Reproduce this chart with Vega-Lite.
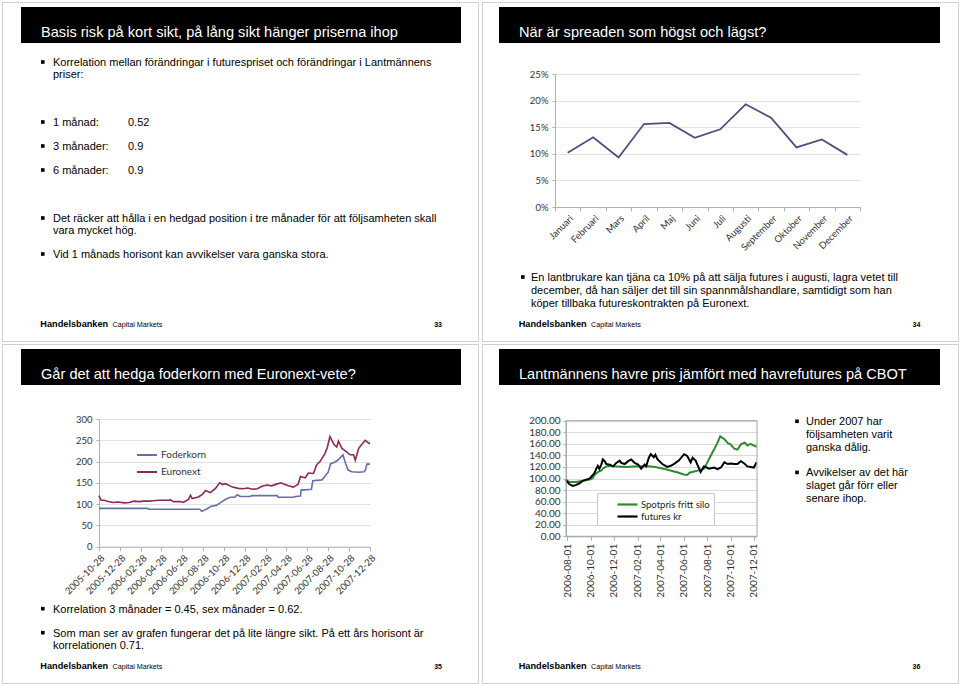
{
  "$schema": "https://vega.github.io/schema/vega-lite/v6.json",
  "background": "white",
  "padding": {"left": 1, "top": 1, "right": 3, "bottom": 2},
  "columns": 2,
  "spacing": {"row": 3, "column": 4},
  "bounds": "flush",
  "resolve": {"scale": {"color": "independent"}, "legend": {"color": "independent"}},
  "config": {
    "view": {"stroke": "#d0d0d0", "strokeWidth": 1},
    "font": "Liberation Sans",
    "axis": {"labelFont": "Lato", "labelFontSize": 9.5, "labelColor": "#333333", "domainColor": "#b0b0b0", "tickColor": "#b0b0b0", "gridColor": "#e2e2e2", "labelOverlap": false, "labelFlush": false, "labelBound": false, "title": null}
  },
  "datasets": {
    "s1text": [
      {"line": 0, "text": "Korrelation mellan förändringar i futurespriset och förändringar i Lantmännens", "bullet": true},
      {"line": 1, "text": "priser:", "bullet": false},
      {"line": 5, "text": "1 månad:", "value": "0.52", "bullet": true},
      {"line": 7, "text": "3 månader:", "value": "0.9", "bullet": true},
      {"line": 9, "text": "6 månader:", "value": "0.9", "bullet": true},
      {"line": 13, "text": "Det räcker att hålla i en hedgad position i tre månader för att följsamheten skall", "bullet": true},
      {"line": 14, "text": "vara mycket hög.", "bullet": false},
      {"line": 16, "text": "Vid 1 månads horisont kan avvikelser vara ganska stora.", "bullet": true}
    ],
    "s2text": [
      {"line": 0, "text": "En lantbrukare kan tjäna ca 10% på att sälja futures i augusti, lagra vetet till", "bullet": true},
      {"line": 1, "text": "december, då han säljer det till sin spannmålshandlare, samtidigt som han", "bullet": false},
      {"line": 2, "text": "köper tillbaka futureskontrakten på Euronext.", "bullet": false}
    ],
    "s3text": [
      {"line": 0, "text": "Korrelation 3 månader = 0.45, sex månader = 0.62.", "bullet": true},
      {"line": 2, "text": "Som man ser av grafen fungerar det på lite längre sikt. På ett års horisont är", "bullet": true},
      {"line": 3, "text": "korrelationen 0.71.", "bullet": false}
    ],
    "s4text": [
      {"line": 0, "text": "Under 2007 har", "bullet": true},
      {"line": 1, "text": "följsamheten varit", "bullet": false},
      {"line": 2, "text": "ganska dålig.", "bullet": false},
      {"line": 4, "text": "Avvikelser av det här", "bullet": true},
      {"line": 5, "text": "slaget går förr eller", "bullet": false},
      {"line": 6, "text": "senare ihop.", "bullet": false}
    ],
    "spread": [
      {"month": "Januari", "spread": 0.102},
      {"month": "Februari", "spread": 0.131},
      {"month": "Mars", "spread": 0.093},
      {"month": "April", "spread": 0.156},
      {"month": "Maj", "spread": 0.158},
      {"month": "Juni", "spread": 0.130},
      {"month": "Juli", "spread": 0.146},
      {"month": "Augusti", "spread": 0.193},
      {"month": "September", "spread": 0.168},
      {"month": "Oktober", "spread": 0.112},
      {"month": "November", "spread": 0.127},
      {"month": "December", "spread": 0.098}
    ],
    "feed": [
      {"date": "2005-10-28", "series": "Foderkorn", "price": 90},
      {"date": "2005-11-25", "series": "Foderkorn", "price": 90},
      {"date": "2005-12-23", "series": "Foderkorn", "price": 90},
      {"date": "2006-01-27", "series": "Foderkorn", "price": 90},
      {"date": "2006-02-24", "series": "Foderkorn", "price": 90},
      {"date": "2006-03-17", "series": "Foderkorn", "price": 90},
      {"date": "2006-03-24", "series": "Foderkorn", "price": 88},
      {"date": "2006-04-28", "series": "Foderkorn", "price": 88},
      {"date": "2006-05-26", "series": "Foderkorn", "price": 88},
      {"date": "2006-06-23", "series": "Foderkorn", "price": 88},
      {"date": "2006-07-21", "series": "Foderkorn", "price": 88},
      {"date": "2006-08-18", "series": "Foderkorn", "price": 88},
      {"date": "2006-08-24", "series": "Foderkorn", "price": 83},
      {"date": "2006-09-06", "series": "Foderkorn", "price": 88},
      {"date": "2006-09-20", "series": "Foderkorn", "price": 95},
      {"date": "2006-10-05", "series": "Foderkorn", "price": 97},
      {"date": "2006-10-19", "series": "Foderkorn", "price": 104},
      {"date": "2006-11-03", "series": "Foderkorn", "price": 112},
      {"date": "2006-11-16", "series": "Foderkorn", "price": 116},
      {"date": "2006-11-27", "series": "Foderkorn", "price": 116},
      {"date": "2006-12-06", "series": "Foderkorn", "price": 122},
      {"date": "2006-12-14", "series": "Foderkorn", "price": 118},
      {"date": "2007-01-10", "series": "Foderkorn", "price": 118},
      {"date": "2007-01-19", "series": "Foderkorn", "price": 120},
      {"date": "2007-04-01", "series": "Foderkorn", "price": 120},
      {"date": "2007-04-04", "series": "Foderkorn", "price": 116},
      {"date": "2007-05-19", "series": "Foderkorn", "price": 116},
      {"date": "2007-05-25", "series": "Foderkorn", "price": 118},
      {"date": "2007-06-08", "series": "Foderkorn", "price": 119},
      {"date": "2007-06-10", "series": "Foderkorn", "price": 133},
      {"date": "2007-06-28", "series": "Foderkorn", "price": 134},
      {"date": "2007-07-10", "series": "Foderkorn", "price": 135},
      {"date": "2007-07-14", "series": "Foderkorn", "price": 155},
      {"date": "2007-08-10", "series": "Foderkorn", "price": 157},
      {"date": "2007-08-18", "series": "Foderkorn", "price": 165},
      {"date": "2007-08-28", "series": "Foderkorn", "price": 175},
      {"date": "2007-09-04", "series": "Foderkorn", "price": 195},
      {"date": "2007-09-14", "series": "Foderkorn", "price": 198},
      {"date": "2007-09-25", "series": "Foderkorn", "price": 203},
      {"date": "2007-10-10", "series": "Foderkorn", "price": 216},
      {"date": "2007-10-18", "series": "Foderkorn", "price": 195},
      {"date": "2007-10-25", "series": "Foderkorn", "price": 180},
      {"date": "2007-11-05", "series": "Foderkorn", "price": 176},
      {"date": "2007-11-25", "series": "Foderkorn", "price": 175},
      {"date": "2007-12-10", "series": "Foderkorn", "price": 176},
      {"date": "2007-12-14", "series": "Foderkorn", "price": 179},
      {"date": "2007-12-19", "series": "Foderkorn", "price": 194},
      {"date": "2007-12-28", "series": "Foderkorn", "price": 194},
      {"date": "2005-10-28", "series": "Euronext", "price": 120},
      {"date": "2005-11-03", "series": "Euronext", "price": 109},
      {"date": "2005-11-12", "series": "Euronext", "price": 109},
      {"date": "2005-11-24", "series": "Euronext", "price": 106},
      {"date": "2005-12-08", "series": "Euronext", "price": 104},
      {"date": "2005-12-22", "series": "Euronext", "price": 105},
      {"date": "2006-01-10", "series": "Euronext", "price": 103},
      {"date": "2006-01-24", "series": "Euronext", "price": 104},
      {"date": "2006-02-07", "series": "Euronext", "price": 107},
      {"date": "2006-02-21", "series": "Euronext", "price": 106},
      {"date": "2006-03-07", "series": "Euronext", "price": 107},
      {"date": "2006-03-22", "series": "Euronext", "price": 107},
      {"date": "2006-04-05", "series": "Euronext", "price": 108},
      {"date": "2006-04-19", "series": "Euronext", "price": 109},
      {"date": "2006-05-03", "series": "Euronext", "price": 109},
      {"date": "2006-05-19", "series": "Euronext", "price": 109},
      {"date": "2006-05-25", "series": "Euronext", "price": 110},
      {"date": "2006-06-02", "series": "Euronext", "price": 106},
      {"date": "2006-06-22", "series": "Euronext", "price": 106},
      {"date": "2006-07-01", "series": "Euronext", "price": 104},
      {"date": "2006-07-16", "series": "Euronext", "price": 111},
      {"date": "2006-07-22", "series": "Euronext", "price": 121},
      {"date": "2006-07-27", "series": "Euronext", "price": 113},
      {"date": "2006-08-14", "series": "Euronext", "price": 117},
      {"date": "2006-08-26", "series": "Euronext", "price": 123},
      {"date": "2006-09-04", "series": "Euronext", "price": 132},
      {"date": "2006-09-18", "series": "Euronext", "price": 127},
      {"date": "2006-10-03", "series": "Euronext", "price": 137},
      {"date": "2006-10-15", "series": "Euronext", "price": 150},
      {"date": "2006-10-24", "series": "Euronext", "price": 146},
      {"date": "2006-11-01", "series": "Euronext", "price": 148},
      {"date": "2006-11-22", "series": "Euronext", "price": 140},
      {"date": "2006-12-08", "series": "Euronext", "price": 137},
      {"date": "2006-12-22", "series": "Euronext", "price": 136},
      {"date": "2007-01-05", "series": "Euronext", "price": 138},
      {"date": "2007-01-19", "series": "Euronext", "price": 135},
      {"date": "2007-02-02", "series": "Euronext", "price": 136},
      {"date": "2007-02-16", "series": "Euronext", "price": 142},
      {"date": "2007-03-02", "series": "Euronext", "price": 145},
      {"date": "2007-03-16", "series": "Euronext", "price": 143},
      {"date": "2007-03-30", "series": "Euronext", "price": 147},
      {"date": "2007-04-13", "series": "Euronext", "price": 150},
      {"date": "2007-04-20", "series": "Euronext", "price": 147},
      {"date": "2007-05-04", "series": "Euronext", "price": 143},
      {"date": "2007-05-18", "series": "Euronext", "price": 140},
      {"date": "2007-06-01", "series": "Euronext", "price": 146},
      {"date": "2007-06-08", "series": "Euronext", "price": 165},
      {"date": "2007-06-22", "series": "Euronext", "price": 162},
      {"date": "2007-07-01", "series": "Euronext", "price": 173},
      {"date": "2007-07-16", "series": "Euronext", "price": 172},
      {"date": "2007-07-25", "series": "Euronext", "price": 192},
      {"date": "2007-08-04", "series": "Euronext", "price": 200},
      {"date": "2007-08-18", "series": "Euronext", "price": 218},
      {"date": "2007-08-25", "series": "Euronext", "price": 232},
      {"date": "2007-09-02", "series": "Euronext", "price": 259},
      {"date": "2007-09-14", "series": "Euronext", "price": 240},
      {"date": "2007-09-22", "series": "Euronext", "price": 234},
      {"date": "2007-09-27", "series": "Euronext", "price": 248},
      {"date": "2007-10-07", "series": "Euronext", "price": 231},
      {"date": "2007-10-17", "series": "Euronext", "price": 225},
      {"date": "2007-10-31", "series": "Euronext", "price": 216},
      {"date": "2007-11-10", "series": "Euronext", "price": 216},
      {"date": "2007-11-15", "series": "Euronext", "price": 203},
      {"date": "2007-11-25", "series": "Euronext", "price": 231},
      {"date": "2007-12-04", "series": "Euronext", "price": 240},
      {"date": "2007-12-14", "series": "Euronext", "price": 250},
      {"date": "2007-12-23", "series": "Euronext", "price": 244},
      {"date": "2007-12-28", "series": "Euronext", "price": 242}
    ],
    "oats": [
      {"date": "2006-07-29", "series": "Spotpris fritt silo", "price": 98},
      {"date": "2006-08-07", "series": "Spotpris fritt silo", "price": 94},
      {"date": "2006-08-25", "series": "Spotpris fritt silo", "price": 94},
      {"date": "2006-09-11", "series": "Spotpris fritt silo", "price": 96},
      {"date": "2006-09-29", "series": "Spotpris fritt silo", "price": 98},
      {"date": "2006-10-07", "series": "Spotpris fritt silo", "price": 101},
      {"date": "2006-10-11", "series": "Spotpris fritt silo", "price": 106},
      {"date": "2006-10-20", "series": "Spotpris fritt silo", "price": 111},
      {"date": "2006-10-29", "series": "Spotpris fritt silo", "price": 114},
      {"date": "2006-11-02", "series": "Spotpris fritt silo", "price": 117},
      {"date": "2006-11-11", "series": "Spotpris fritt silo", "price": 121},
      {"date": "2006-11-20", "series": "Spotpris fritt silo", "price": 122},
      {"date": "2006-12-01", "series": "Spotpris fritt silo", "price": 121},
      {"date": "2007-01-01", "series": "Spotpris fritt silo", "price": 120},
      {"date": "2007-02-01", "series": "Spotpris fritt silo", "price": 121},
      {"date": "2007-03-01", "series": "Spotpris fritt silo", "price": 121},
      {"date": "2007-03-19", "series": "Spotpris fritt silo", "price": 120},
      {"date": "2007-04-15", "series": "Spotpris fritt silo", "price": 116},
      {"date": "2007-05-02", "series": "Spotpris fritt silo", "price": 113},
      {"date": "2007-05-19", "series": "Spotpris fritt silo", "price": 110},
      {"date": "2007-06-01", "series": "Spotpris fritt silo", "price": 107},
      {"date": "2007-06-10", "series": "Spotpris fritt silo", "price": 106},
      {"date": "2007-06-16", "series": "Spotpris fritt silo", "price": 110},
      {"date": "2007-06-28", "series": "Spotpris fritt silo", "price": 112},
      {"date": "2007-07-10", "series": "Spotpris fritt silo", "price": 114},
      {"date": "2007-07-24", "series": "Spotpris fritt silo", "price": 117},
      {"date": "2007-08-01", "series": "Spotpris fritt silo", "price": 127},
      {"date": "2007-08-10", "series": "Spotpris fritt silo", "price": 139},
      {"date": "2007-08-19", "series": "Spotpris fritt silo", "price": 150},
      {"date": "2007-08-28", "series": "Spotpris fritt silo", "price": 162},
      {"date": "2007-09-04", "series": "Spotpris fritt silo", "price": 173},
      {"date": "2007-09-06", "series": "Spotpris fritt silo", "price": 172},
      {"date": "2007-09-15", "series": "Spotpris fritt silo", "price": 168},
      {"date": "2007-09-24", "series": "Spotpris fritt silo", "price": 161},
      {"date": "2007-10-01", "series": "Spotpris fritt silo", "price": 159},
      {"date": "2007-10-10", "series": "Spotpris fritt silo", "price": 152},
      {"date": "2007-10-19", "series": "Spotpris fritt silo", "price": 150},
      {"date": "2007-10-28", "series": "Spotpris fritt silo", "price": 159},
      {"date": "2007-11-07", "series": "Spotpris fritt silo", "price": 162},
      {"date": "2007-11-14", "series": "Spotpris fritt silo", "price": 157},
      {"date": "2007-11-22", "series": "Spotpris fritt silo", "price": 160},
      {"date": "2007-12-01", "series": "Spotpris fritt silo", "price": 157},
      {"date": "2007-12-08", "series": "Spotpris fritt silo", "price": 155},
      {"date": "2006-07-29", "series": "futures kr", "price": 97},
      {"date": "2006-08-07", "series": "futures kr", "price": 90},
      {"date": "2006-08-16", "series": "futures kr", "price": 87},
      {"date": "2006-08-25", "series": "futures kr", "price": 89},
      {"date": "2006-09-03", "series": "futures kr", "price": 92},
      {"date": "2006-09-11", "series": "futures kr", "price": 96},
      {"date": "2006-09-20", "series": "futures kr", "price": 98},
      {"date": "2006-09-29", "series": "futures kr", "price": 100},
      {"date": "2006-10-07", "series": "futures kr", "price": 106},
      {"date": "2006-10-11", "series": "futures kr", "price": 109},
      {"date": "2006-10-16", "series": "futures kr", "price": 117},
      {"date": "2006-10-20", "series": "futures kr", "price": 122},
      {"date": "2006-10-24", "series": "futures kr", "price": 117},
      {"date": "2006-10-29", "series": "futures kr", "price": 124},
      {"date": "2006-11-02", "series": "futures kr", "price": 133},
      {"date": "2006-11-07", "series": "futures kr", "price": 130},
      {"date": "2006-11-11", "series": "futures kr", "price": 125},
      {"date": "2006-11-20", "series": "futures kr", "price": 124},
      {"date": "2006-11-29", "series": "futures kr", "price": 121},
      {"date": "2006-12-07", "series": "futures kr", "price": 127},
      {"date": "2006-12-16", "series": "futures kr", "price": 131},
      {"date": "2006-12-20", "series": "futures kr", "price": 127},
      {"date": "2006-12-29", "series": "futures kr", "price": 125},
      {"date": "2007-01-07", "series": "futures kr", "price": 130},
      {"date": "2007-01-15", "series": "futures kr", "price": 133},
      {"date": "2007-01-24", "series": "futures kr", "price": 127},
      {"date": "2007-02-02", "series": "futures kr", "price": 124},
      {"date": "2007-02-10", "series": "futures kr", "price": 117},
      {"date": "2007-02-19", "series": "futures kr", "price": 124},
      {"date": "2007-02-23", "series": "futures kr", "price": 121},
      {"date": "2007-03-02", "series": "futures kr", "price": 136},
      {"date": "2007-03-07", "series": "futures kr", "price": 142},
      {"date": "2007-03-15", "series": "futures kr", "price": 137},
      {"date": "2007-03-19", "series": "futures kr", "price": 141},
      {"date": "2007-03-24", "series": "futures kr", "price": 134},
      {"date": "2007-03-28", "series": "futures kr", "price": 131},
      {"date": "2007-04-06", "series": "futures kr", "price": 125},
      {"date": "2007-04-19", "series": "futures kr", "price": 120},
      {"date": "2007-04-28", "series": "futures kr", "price": 122},
      {"date": "2007-05-06", "series": "futures kr", "price": 125},
      {"date": "2007-05-19", "series": "futures kr", "price": 131},
      {"date": "2007-06-02", "series": "futures kr", "price": 142},
      {"date": "2007-06-10", "series": "futures kr", "price": 139},
      {"date": "2007-06-19", "series": "futures kr", "price": 128},
      {"date": "2007-06-24", "series": "futures kr", "price": 136},
      {"date": "2007-07-02", "series": "futures kr", "price": 131},
      {"date": "2007-07-06", "series": "futures kr", "price": 125},
      {"date": "2007-07-15", "series": "futures kr", "price": 111},
      {"date": "2007-07-24", "series": "futures kr", "price": 121},
      {"date": "2007-08-06", "series": "futures kr", "price": 117},
      {"date": "2007-08-19", "series": "futures kr", "price": 119},
      {"date": "2007-08-28", "series": "futures kr", "price": 116},
      {"date": "2007-09-06", "series": "futures kr", "price": 119},
      {"date": "2007-09-15", "series": "futures kr", "price": 128},
      {"date": "2007-09-24", "series": "futures kr", "price": 125},
      {"date": "2007-10-02", "series": "futures kr", "price": 126},
      {"date": "2007-10-10", "series": "futures kr", "price": 125},
      {"date": "2007-10-19", "series": "futures kr", "price": 125},
      {"date": "2007-10-28", "series": "futures kr", "price": 130},
      {"date": "2007-11-06", "series": "futures kr", "price": 126},
      {"date": "2007-11-14", "series": "futures kr", "price": 121},
      {"date": "2007-11-23", "series": "futures kr", "price": 120},
      {"date": "2007-12-01", "series": "futures kr", "price": 119},
      {"date": "2007-12-08", "series": "futures kr", "price": 128}
    ]
  },
  "concat": [
    {
      "width": 476, "height": 339,
      "layer": [
        {"data": {"values": [{"title": "Basis risk på kort sikt, på lång sikt hänger priserna ihop"}]},
         "mark": {"type": "rect", "color": "#000000"},
         "encoding": {"x": {"value": 19}, "x2": {"value": 459}, "y": {"value": 5}, "y2": {"value": 41}}},
        {"data": {"values": [{"title": "Basis risk på kort sikt, på lång sikt hänger priserna ihop"}]},
         "mark": {"type": "text", "color": "#ffffff", "fontSize": 14.6, "align": "left", "baseline": "alphabetic"},
         "encoding": {"x": {"value": 39}, "y": {"value": 35}, "text": {"field": "title"}}},
        {"data": {"name": "s1text"},
         "mark": {"type": "text", "fontSize": 11, "align": "left", "baseline": "middle", "color": "#000000"},
         "encoding": {"x": {"value": 51}, "y": {"field": "line", "type": "quantitative", "scale": {"domain": [0, 16], "range": [61, 253], "nice": false, "zero": false}, "axis": null}, "text": {"field": "text"}}},
        {"data": {"name": "s1text"}, "transform": [{"filter": "isValid(datum.value)"}],
         "mark": {"type": "text", "fontSize": 11, "align": "left", "baseline": "middle", "color": "#000000"},
         "encoding": {"x": {"value": 126}, "y": {"field": "line", "type": "quantitative", "scale": {"domain": [0, 16], "range": [61, 253], "nice": false, "zero": false}, "axis": null}, "text": {"field": "value"}}},
        {"data": {"name": "s1text"}, "transform": [{"filter": "datum.bullet"}],
         "mark": {"type": "square", "size": 13, "color": "#000000", "opacity": 1, "yOffset": -1},
         "encoding": {"x": {"value": 40.8}, "y": {"field": "line", "type": "quantitative", "scale": {"domain": [0, 16], "range": [61, 253], "nice": false, "zero": false}, "axis": null}}},
        {"data": {"values": [{"brand": "Handelsbanken", "unit": "Capital Markets", "page": "33"}]},
         "mark": {"type": "text", "fontSize": 9.2, "fontWeight": "bold", "align": "left", "baseline": "alphabetic", "color": "#000000"},
         "encoding": {"x": {"value": 38.3}, "y": {"value": 325}, "text": {"field": "brand"}}},
        {"data": {"values": [{"brand": "Handelsbanken", "unit": "Capital Markets", "page": "33"}]},
         "mark": {"type": "text", "fontSize": 7.2, "align": "left", "baseline": "alphabetic", "color": "#000000"},
         "encoding": {"x": {"value": 110.5}, "y": {"value": 325}, "text": {"field": "unit"}}},
        {"data": {"values": [{"brand": "Handelsbanken", "unit": "Capital Markets", "page": "33"}]},
         "mark": {"type": "text", "fontSize": 7, "fontWeight": "bold", "align": "right", "baseline": "alphabetic", "color": "#000000"},
         "encoding": {"x": {"value": 440}, "y": {"value": 325}, "text": {"field": "page"}}}
      ]
    },
    {
      "width": 476, "height": 339,
      "resolve": {"scale": {"y": "independent"}},
      "layer": [
        {"data": {"values": [{"title": "När är spreaden som högst och lägst?"}]},
         "mark": {"type": "rect", "color": "#000000"},
         "encoding": {"x": {"value": 17}, "x2": {"value": 458}, "y": {"value": 5}, "y2": {"value": 41}}},
        {"data": {"values": [{"title": "När är spreaden som högst och lägst?"}]},
         "mark": {"type": "text", "color": "#ffffff", "fontSize": 14.6, "align": "left", "baseline": "alphabetic"},
         "encoding": {"x": {"value": 37}, "y": {"value": 35}, "text": {"field": "title"}}},
        {"data": {"name": "spread"},
         "mark": {"type": "line", "color": "#4e4e80", "strokeWidth": 1.8},
         "encoding": {
           "x": {"field": "month", "type": "nominal", "sort": null,
                 "scale": {"type": "band", "paddingInner": 0, "paddingOuter": 0, "range": [73, 378]},
                 "axis": {"offset": -134, "labelAngle": -45, "tickBand": "extent", "tickSize": 4, "labelPadding": 2, "grid": false, "labelOverlap": false}},
           "y": {"field": "spread", "type": "quantitative",
                 "scale": {"domain": [0, 0.25], "range": [205, 72], "nice": false},
                 "axis": {"offset": -73, "values": [0, 0.05, 0.1, 0.15, 0.2, 0.25], "format": ".0%", "grid": true, "tickSize": 3, "labelPadding": 4, "labelOverlap": false}}
         }},
        {"data": {"name": "s2text"},
         "mark": {"type": "text", "fontSize": 11, "align": "left", "baseline": "middle", "color": "#000000"},
         "encoding": {"x": {"value": 49}, "y": {"field": "line", "type": "quantitative", "scale": {"domain": [0, 2], "range": [276, 302], "nice": false, "zero": false}, "axis": null}, "text": {"field": "text"}}},
        {"data": {"name": "s2text"}, "transform": [{"filter": "datum.bullet"}],
         "mark": {"type": "square", "size": 13, "color": "#000000", "opacity": 1, "yOffset": -1},
         "encoding": {"x": {"value": 40.8}, "y": {"field": "line", "type": "quantitative", "scale": {"domain": [0, 2], "range": [276, 302], "nice": false, "zero": false}, "axis": null}}},
        {"data": {"values": [{"brand": "Handelsbanken", "unit": "Capital Markets", "page": "34"}]},
         "mark": {"type": "text", "fontSize": 9.2, "fontWeight": "bold", "align": "left", "baseline": "alphabetic", "color": "#000000"},
         "encoding": {"x": {"value": 36.7}, "y": {"value": 325}, "text": {"field": "brand"}}},
        {"data": {"values": [{"brand": "Handelsbanken", "unit": "Capital Markets", "page": "34"}]},
         "mark": {"type": "text", "fontSize": 7.2, "align": "left", "baseline": "alphabetic", "color": "#000000"},
         "encoding": {"x": {"value": 109}, "y": {"value": 325}, "text": {"field": "unit"}}},
        {"data": {"values": [{"brand": "Handelsbanken", "unit": "Capital Markets", "page": "34"}]},
         "mark": {"type": "text", "fontSize": 7, "fontWeight": "bold", "align": "right", "baseline": "alphabetic", "color": "#000000"},
         "encoding": {"x": {"value": 438.3}, "y": {"value": 325}, "text": {"field": "page"}}}
      ]
    },
    {
      "width": 476, "height": 339,
      "resolve": {"scale": {"y": "independent"}},
      "layer": [
        {"data": {"values": [{"title": "Går det att hedga foderkorn med Euronext-vete?"}]},
         "mark": {"type": "rect", "color": "#000000"},
         "encoding": {"x": {"value": 19}, "x2": {"value": 459}, "y": {"value": 5}, "y2": {"value": 41}}},
        {"data": {"values": [{"title": "Går det att hedga foderkorn med Euronext-vete?"}]},
         "mark": {"type": "text", "color": "#ffffff", "fontSize": 14.6, "align": "left", "baseline": "alphabetic"},
         "encoding": {"x": {"value": 39}, "y": {"value": 35}, "text": {"field": "title"}}},
        {"data": {"name": "feed"},
         "mark": {"type": "line", "strokeWidth": 1.6},
         "encoding": {
           "x": {"field": "date", "type": "temporal",
                 "scale": {"type": "utc", "domain": [{"year": 2005, "month": 10, "date": 28, "utc": true}, {"year": 2007, "month": 12, "date": 28, "utc": true}], "range": [97, 368]},
                 "axis": {"offset": -136.3, "format": "%Y-%m-%d", "labelAngle": -45, "tickSize": 4, "labelPadding": 2, "grid": false, "labelOverlap": false,
                          "values": [
                            {"year": 2005, "month": 10, "date": 28, "utc": true},
                            {"year": 2005, "month": 12, "date": 28, "utc": true},
                            {"year": 2006, "month": 2, "date": 28, "utc": true},
                            {"year": 2006, "month": 4, "date": 28, "utc": true},
                            {"year": 2006, "month": 6, "date": 28, "utc": true},
                            {"year": 2006, "month": 8, "date": 28, "utc": true},
                            {"year": 2006, "month": 10, "date": 28, "utc": true},
                            {"year": 2006, "month": 12, "date": 28, "utc": true},
                            {"year": 2007, "month": 2, "date": 28, "utc": true},
                            {"year": 2007, "month": 4, "date": 28, "utc": true},
                            {"year": 2007, "month": 6, "date": 28, "utc": true},
                            {"year": 2007, "month": 8, "date": 28, "utc": true},
                            {"year": 2007, "month": 10, "date": 28, "utc": true},
                            {"year": 2007, "month": 12, "date": 28, "utc": true}
                          ]}},
           "y": {"field": "price", "type": "quantitative",
                 "scale": {"domain": [0, 300], "range": [202.7, 75], "nice": false},
                 "axis": {"offset": -97, "values": [0, 50, 100, 150, 200, 250, 300], "grid": true, "tickSize": 3, "labelPadding": 4, "labelOverlap": false}},
           "color": {"field": "series", "type": "nominal",
                     "scale": {"domain": ["Foderkorn", "Euronext"], "range": ["#6670a6", "#8c2a55"]},
                     "legend": {"orient": "none", "legendX": 134, "legendY": 104, "title": null, "symbolType": "M-1.67,0H1.67", "symbolSize": 144, "symbolStrokeWidth": 2, "symbolOffset": 4, "labelFont": "Lato", "labelFontSize": 10, "labelColor": "#333333", "labelOffset": 7, "rowPadding": 5, "padding": 0}}
         }},
        {"data": {"name": "s3text"},
         "mark": {"type": "text", "fontSize": 11, "align": "left", "baseline": "middle", "color": "#000000"},
         "encoding": {"x": {"value": 51}, "y": {"field": "line", "type": "quantitative", "scale": {"domain": [0, 3], "range": [265.7, 301.7], "nice": false, "zero": false}, "axis": null}, "text": {"field": "text"}}},
        {"data": {"name": "s3text"}, "transform": [{"filter": "datum.bullet"}],
         "mark": {"type": "square", "size": 13, "color": "#000000", "opacity": 1, "yOffset": -1},
         "encoding": {"x": {"value": 40.8}, "y": {"field": "line", "type": "quantitative", "scale": {"domain": [0, 3], "range": [265.7, 301.7], "nice": false, "zero": false}, "axis": null}}},
        {"data": {"values": [{"brand": "Handelsbanken", "unit": "Capital Markets", "page": "35"}]},
         "mark": {"type": "text", "fontSize": 9.2, "fontWeight": "bold", "align": "left", "baseline": "alphabetic", "color": "#000000"},
         "encoding": {"x": {"value": 38.3}, "y": {"value": 324.5}, "text": {"field": "brand"}}},
        {"data": {"values": [{"brand": "Handelsbanken", "unit": "Capital Markets", "page": "35"}]},
         "mark": {"type": "text", "fontSize": 7.2, "align": "left", "baseline": "alphabetic", "color": "#000000"},
         "encoding": {"x": {"value": 110.5}, "y": {"value": 324.5}, "text": {"field": "unit"}}},
        {"data": {"values": [{"brand": "Handelsbanken", "unit": "Capital Markets", "page": "35"}]},
         "mark": {"type": "text", "fontSize": 7, "fontWeight": "bold", "align": "right", "baseline": "alphabetic", "color": "#000000"},
         "encoding": {"x": {"value": 440}, "y": {"value": 324.5}, "text": {"field": "page"}}}
      ]
    },
    {
      "width": 476, "height": 339,
      "resolve": {"scale": {"y": "independent"}},
      "layer": [
        {"data": {"values": [{"title": "Lantmännens havre pris jämfört med havrefutures på CBOT"}]},
         "mark": {"type": "rect", "color": "#000000"},
         "encoding": {"x": {"value": 17}, "x2": {"value": 458}, "y": {"value": 5}, "y2": {"value": 41}}},
        {"data": {"values": [{"title": "Lantmännens havre pris jämfört med havrefutures på CBOT"}]},
         "mark": {"type": "text", "color": "#ffffff", "fontSize": 14.6, "align": "left", "baseline": "alphabetic"},
         "encoding": {"x": {"value": 37}, "y": {"value": 35}, "text": {"field": "title"}}},
        {
          "layer": [
            {"data": {"name": "oats"},
             "mark": {"type": "line", "strokeWidth": 2},
             "encoding": {
               "x": {"field": "date", "type": "temporal",
                     "scale": {"type": "utc", "domain": [{"year": 2006, "month": 7, "date": 29, "utc": true}, {"year": 2007, "month": 12, "date": 9, "utc": true}], "range": [84, 275]},
                     "axis": {"offset": -146.7, "format": "%Y-%m-%d", "labelAngle": -90, "tickSize": 4, "labelPadding": 3, "grid": false, "labelFontSize": 10, "labelOverlap": false,
                              "values": [
                                {"year": 2006, "month": 8, "date": 1, "utc": true},
                                {"year": 2006, "month": 10, "date": 1, "utc": true},
                                {"year": 2006, "month": 12, "date": 1, "utc": true},
                                {"year": 2007, "month": 2, "date": 1, "utc": true},
                                {"year": 2007, "month": 4, "date": 1, "utc": true},
                                {"year": 2007, "month": 6, "date": 1, "utc": true},
                                {"year": 2007, "month": 8, "date": 1, "utc": true},
                                {"year": 2007, "month": 10, "date": 1, "utc": true},
                                {"year": 2007, "month": 12, "date": 1, "utc": true}
                              ]}},
               "y": {"field": "price", "type": "quantitative",
                     "scale": {"domain": [0, 200], "range": [192.3, 76.7], "nice": false},
                     "axis": {"offset": -84, "values": [0, 20, 40, 60, 80, 100, 120, 140, 160, 180, 200], "format": ".2f", "grid": true, "gridColor": "#d9d9d9", "tickSize": 3, "labelPadding": 3, "labelFontSize": 10, "labelOverlap": false}},
               "color": {"field": "series", "type": "nominal",
                         "scale": {"domain": ["Spotpris fritt silo", "futures kr"], "range": ["#2e8b2e", "#000000"]},
                         "legend": {"orient": "none", "legendX": 115, "legendY": 149, "title": null, "symbolType": "M-1.67,0H1.67", "symbolSize": 144, "symbolStrokeWidth": 2.2, "padding": 4, "symbolOffset": 19, "strokeColor": "#c8c8c8", "fillColor": "#ffffff", "labelFont": "Lato", "labelFontSize": 9.5, "labelColor": "#222222", "labelOffset": 6, "rowPadding": 0}}
             }},
            {"data": {"values": [{"frame": "plot area"}]},
             "mark": {"type": "rect", "filled": false, "color": "#a6a6a6", "strokeWidth": 1},
             "encoding": {
               "x": {"datum": {"year": 2006, "month": 7, "date": 29, "utc": true}, "type": "temporal",
                     "axis": {"offset": -146.7, "format": "%Y-%m-%d", "labelAngle": -90, "tickSize": 4, "labelPadding": 3, "grid": false, "labelFontSize": 10, "labelOverlap": false,
                              "values": [
                                {"year": 2006, "month": 8, "date": 1, "utc": true},
                                {"year": 2006, "month": 10, "date": 1, "utc": true},
                                {"year": 2006, "month": 12, "date": 1, "utc": true},
                                {"year": 2007, "month": 2, "date": 1, "utc": true},
                                {"year": 2007, "month": 4, "date": 1, "utc": true},
                                {"year": 2007, "month": 6, "date": 1, "utc": true},
                                {"year": 2007, "month": 8, "date": 1, "utc": true},
                                {"year": 2007, "month": 10, "date": 1, "utc": true},
                                {"year": 2007, "month": 12, "date": 1, "utc": true}
                              ]}},
               "x2": {"datum": {"year": 2007, "month": 12, "date": 9, "utc": true}},
               "y": {"datum": 0, "type": "quantitative",
                     "axis": {"offset": -84, "values": [0, 20, 40, 60, 80, 100, 120, 140, 160, 180, 200], "format": ".2f", "grid": true, "gridColor": "#d9d9d9", "tickSize": 3, "labelPadding": 3, "labelFontSize": 10, "labelOverlap": false}},
               "y2": {"datum": 200}
             }}
          ]
        },
        {"data": {"name": "s4text"},
         "mark": {"type": "text", "fontSize": 11, "align": "left", "baseline": "middle", "color": "#000000"},
         "encoding": {"x": {"value": 324}, "y": {"field": "line", "type": "quantitative", "scale": {"domain": [0, 6], "range": [78.3, 155], "nice": false, "zero": false}, "axis": null}, "text": {"field": "text"}}},
        {"data": {"name": "s4text"}, "transform": [{"filter": "datum.bullet"}],
         "mark": {"type": "square", "size": 13, "color": "#000000", "opacity": 1, "yOffset": -1},
         "encoding": {"x": {"value": 315}, "y": {"field": "line", "type": "quantitative", "scale": {"domain": [0, 6], "range": [78.3, 155], "nice": false, "zero": false}, "axis": null}}},
        {"data": {"values": [{"brand": "Handelsbanken", "unit": "Capital Markets", "page": "36"}]},
         "mark": {"type": "text", "fontSize": 9.2, "fontWeight": "bold", "align": "left", "baseline": "alphabetic", "color": "#000000"},
         "encoding": {"x": {"value": 36.7}, "y": {"value": 324.5}, "text": {"field": "brand"}}},
        {"data": {"values": [{"brand": "Handelsbanken", "unit": "Capital Markets", "page": "36"}]},
         "mark": {"type": "text", "fontSize": 7.2, "align": "left", "baseline": "alphabetic", "color": "#000000"},
         "encoding": {"x": {"value": 109}, "y": {"value": 324.5}, "text": {"field": "unit"}}},
        {"data": {"values": [{"brand": "Handelsbanken", "unit": "Capital Markets", "page": "36"}]},
         "mark": {"type": "text", "fontSize": 7, "fontWeight": "bold", "align": "right", "baseline": "alphabetic", "color": "#000000"},
         "encoding": {"x": {"value": 438.3}, "y": {"value": 324.5}, "text": {"field": "page"}}}
      ]
    }
  ]
}
